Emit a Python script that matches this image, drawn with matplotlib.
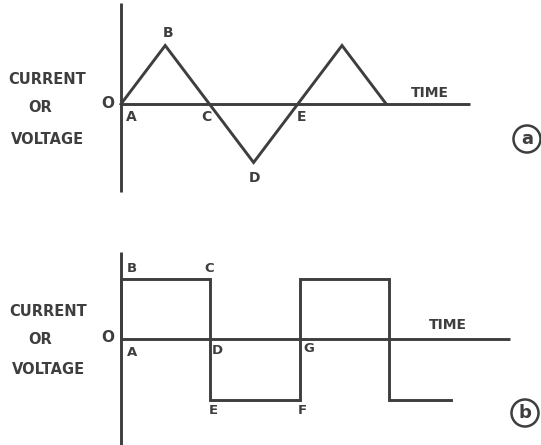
import matplotlib
matplotlib.use("Agg")
import matplotlib.pyplot as plt

# ---- data ----
tri_t = [0, 1, 2, 3, 4, 5, 6]
tri_v = [0, 1, 0, -1, 0, 1, 0]
tri_labels = ["A", "B", "C", "D", "E"]

sq_t = [0, 0, 2, 2, 4, 4, 6, 6, 7.4]
sq_v = [0, 1, 1, -1, -1, 1, 1, -1, -1]
sq_labels = ["A", "B", "C", "D", "E", "F", "G"]

ylabel_lines = ["CURRENT", "OR", "VOLTAGE"]
xlabel = "TIME"
origin_label = "O"
panel_tags = ["a", "b"]

W, H = 541, 445
INK = "#3e3e3e"
LW = 2.1
FONT = dict(family="DejaVu Sans", weight="bold", color=INK)

fig = plt.figure(figsize=(W / 100, H / 100), dpi=100)
fig.patch.set_facecolor("white")


def px(x, y, fs=10.5, **kw):
    fig.text(x / W, 1 - y / H, kw.pop("s"), ha="center", va="center",
             fontsize=fs, **FONT, **kw)


# ---------- top panel ----------
axt = fig.add_axes([0, 0.5, 1, 0.5])
ux, x0 = 44.2, 121
uy, y0 = 58.5, 104
top_px = 0.0
bot_px = 222.5
axt.set_xlim(-x0 / ux, (W - x0) / ux)
axt.set_ylim((y0 - bot_px) / uy, (y0 - top_px) / uy)
axt.axis("off")
axt.plot([0, 0], [(y0 - 192) / uy, (y0 - 3) / uy], color=INK, lw=LW,
         solid_capstyle="butt")
axt.plot([0, (470 - x0) / ux], [0, 0], color=INK, lw=LW, solid_capstyle="butt")
axt.plot(tri_t, tri_v, color=INK, lw=LW, solid_joinstyle="miter")

# ---------- bottom panel ----------
axb = fig.add_axes([0, 0, 1, 0.5])
ux2, uy2, y02 = 44.65, 60.5, 339
top2 = 222.5
bot2 = 445.0
axb.set_xlim(-x0 / ux2, (W - x0) / ux2)
axb.set_ylim((y02 - bot2) / uy2, (y02 - top2) / uy2)
axb.axis("off")
axb.plot([0, 0], [(y02 - 445) / uy2, (y02 - 252) / uy2], color=INK, lw=LW,
         solid_capstyle="butt")
axb.plot([0, (510 - x0) / ux2], [0, 0], color=INK, lw=LW, solid_capstyle="butt")
axb.plot(sq_t, sq_v, color=INK, lw=LW, solid_joinstyle="miter")

# ---------- text ----------
for yy, s in zip([79, 107, 139], ylabel_lines):
    px({"OR": 40}.get(s, 47), yy, s=s)
for yy, s in zip([312, 340, 370], ylabel_lines):
    px({"OR": 40}.get(s, 48), yy, s=s)

px(108, 103, s=origin_label, fs=11)
px(108, 338, s=origin_label, fs=11)

# top letters
for (x, y), s in zip([(131, 117), (168, 33), (206, 117), (254, 178), (301, 117)],
                     tri_labels):
    px(x, y, s=s, fs=10)
px(430, 93, s=xlabel, fs=10)

# bottom letters
for (x, y), s in zip([(132, 352), (132, 268), (209, 268), (217, 350),
                      (213, 411), (302, 411), (309, 349)], sq_labels):
    px(x, y, s=s, fs=9.5)
px(448, 325, s=xlabel, fs=10)

# panel tags
for (x, y), s in zip([(527, 139), (525, 413)], panel_tags):
    fig.text(x / W, 1 - y / H, s, ha="center", va="center", fontsize=13,
             family="DejaVu Sans", weight="bold", color=INK,
             bbox=dict(boxstyle="circle,pad=0.25", fc="none", ec=INK, lw=1.8))

fig.savefig("out.png", dpi=100, facecolor="white")
